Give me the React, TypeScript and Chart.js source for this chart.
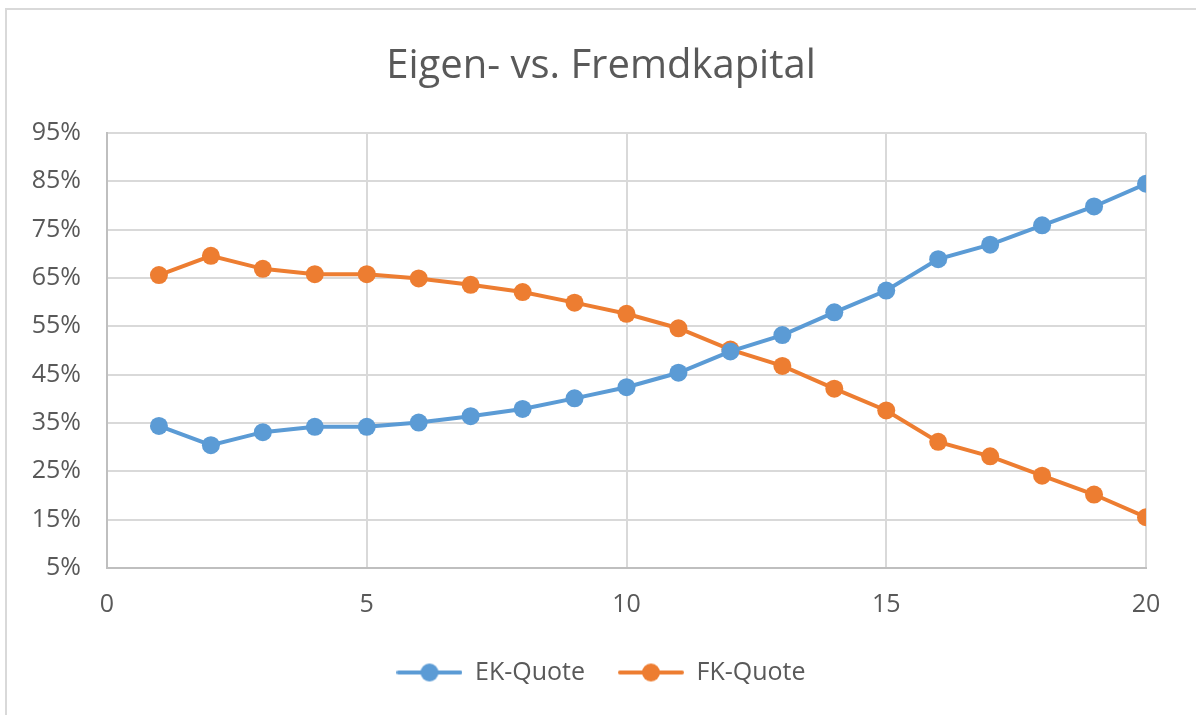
import React, { useEffect, useRef } from "react";
import { Chart, registerables } from "chart.js";

Chart.register(...registerables);

const periods = [1, 2, 3, 4, 5, 6, 7, 8, 9, 10, 11, 12, 13, 14, 15, 16, 17, 18, 19, 20];
const ekQuote = [34.4, 30.4, 33.1, 34.2, 34.2, 35.1, 36.4, 37.9, 40.1, 42.4, 45.4, 49.8, 53.2, 57.9, 62.4, 68.9, 71.9, 75.9, 79.8, 84.5];
const fkQuote = [65.6, 69.6, 66.9, 65.8, 65.8, 64.9, 63.6, 62.1, 59.9, 57.6, 54.6, 50.2, 46.8, 42.1, 37.6, 31.1, 28.1, 24.1, 20.2, 15.5];
const seriesNames = ["EK-Quote", "FK-Quote"];
const seriesColors = ["#5B9BD5", "#ED7D31"];
const titleText = "Eigen- vs. Fremdkapital";
const yMin = 5;
const yMax = 95;
const yStep = 10;
const xMin = 0;
const xMax = 20;
const xStep = 5;

const FONT = "'Open Sans', 'Noto Sans', sans-serif";
const TEXT = "#595959";

function legendSymbol(color: string): HTMLCanvasElement {
  const c = document.createElement("canvas");
  c.width = 66;
  c.height = 22;
  const ctx = c.getContext("2d")!;
  ctx.strokeStyle = color;
  ctx.lineWidth = 4;
  ctx.lineCap = "round";
  ctx.beginPath();
  ctx.moveTo(2, 11);
  ctx.lineTo(64, 11);
  ctx.stroke();
  ctx.fillStyle = color;
  ctx.beginPath();
  ctx.arc(33, 11, 9, 0, Math.PI * 2);
  ctx.fill();
  return c;
}

export default function App() {
  const ref = useRef<HTMLCanvasElement | null>(null);

  useEffect(() => {
    if (!ref.current) return;
    const series = [ekQuote, fkQuote];
    const symbols = seriesColors.map((c) => legendSymbol(c));
    const chart = new Chart(ref.current, {
      type: "line",
      data: {
        datasets: series.map((vals, si) => ({
          label: seriesNames[si],
          data: periods.map((p, i) => ({ x: p, y: vals[i] })),
          borderColor: seriesColors[si],
          backgroundColor: seriesColors[si],
          borderWidth: 4,
          pointRadius: 9,
          pointHoverRadius: 9,
          pointBorderWidth: 0,
          pointBackgroundColor: seriesColors[si],
          tension: 0,
        })),
      },
      options: {
        animation: false,
        responsive: false,
        maintainAspectRatio: false,
        layout: { padding: { left: 6, right: 0, top: 0, bottom: 20 } },
        plugins: {
          title: {
            display: true,
            text: titleText,
            color: TEXT,
            font: { family: FONT, size: 40, weight: "normal" },
            padding: { top: 43, bottom: 42 },
          },
          legend: {
            display: true,
            position: "bottom",
            labels: {
              color: TEXT,
              font: { family: FONT, size: 25 },
              padding: 33,
              usePointStyle: true,
              pointStyleWidth: 66,
              generateLabels: () =>
                seriesNames.map((n, i) => ({
                  text: n,
                  fillStyle: seriesColors[i],
                  strokeStyle: seriesColors[i],
                  lineWidth: 0,
                  pointStyle: symbols[i],
                  datasetIndex: i,
                  hidden: false,
                  fontColor: TEXT,
                })),
            },
          },
          tooltip: { enabled: false },
        },
        scales: {
          x: {
            type: "linear",
            min: xMin,
            max: xMax,
            ticks: {
              stepSize: xStep,
              color: TEXT,
              font: { family: FONT, size: 25 },
              padding: 22,
            },
            grid: { color: "#d9d9d9", lineWidth: 2, drawTicks: false },
            border: { color: "#bfbfbf", width: 2 },
            afterFit: (s: any) => {
              s.height = 59;
            },
          },
          y: {
            type: "linear",
            min: yMin,
            max: yMax,
            ticks: {
              stepSize: yStep,
              color: TEXT,
              font: { family: FONT, size: 25 },
              padding: 26,
              callback: (v: any) => `${v}%`,
            },
            grid: { color: "#d9d9d9", lineWidth: 2, drawTicks: false },
            border: { color: "#bfbfbf", width: 2 },
            afterFit: (s: any) => {
              s.width = 101;
            },
          },
          y2: {
            type: "linear",
            position: "right",
            display: true,
            grid: { display: false, drawTicks: false },
            border: { display: false },
            ticks: { display: false },
            afterFit: (s: any) => {
              s.width = 50;
            },
          },
        },
      },
    });
    return () => chart.destroy();
  }, []);

  return (
    <div style={{ position: "fixed", left: 0, top: 0, width: 1196, height: 715, background: "#ffffff" }}>
      <canvas ref={ref} width={1196} height={715} style={{ display: "block", width: 1196, height: 715 }} />
      <div
        style={{
          position: "absolute",
          left: 5,
          top: 8,
          width: 1191,
          height: 707,
          borderLeft: "2px solid #d9d9d9",
          borderTop: "2px solid #d9d9d9",
          pointerEvents: "none",
        }}
      />
    </div>
  );
}
